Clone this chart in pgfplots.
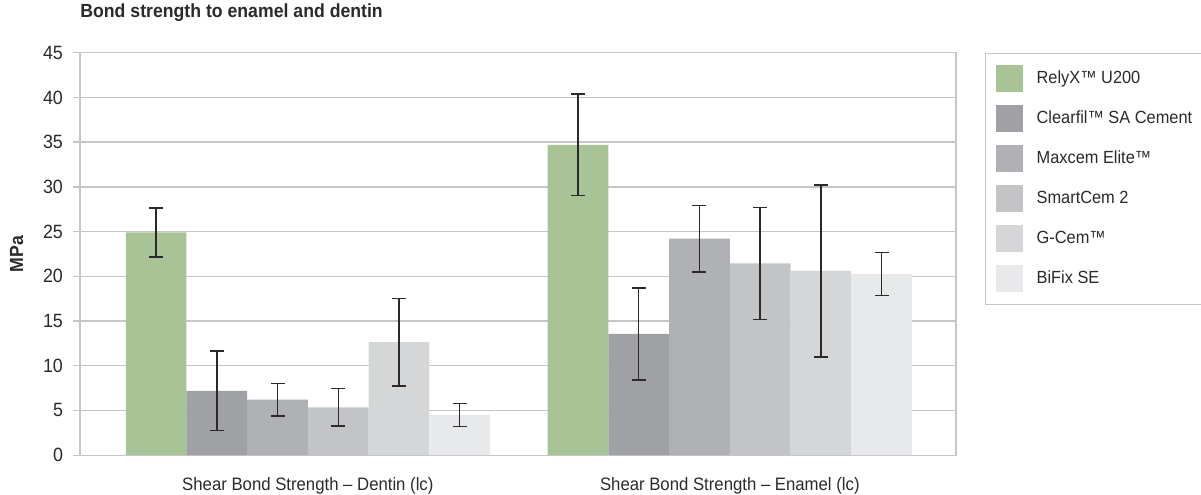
\documentclass[border=0pt]{standalone}
\usepackage{fontspec}
\setmainfont{Liberation Sans}[FakeStretch=0.93]
\usepackage{pgfplots}
\pgfplotsset{compat=1.18}

\definecolor{relyx}{HTML}{A8C496}
\definecolor{clearfil}{HTML}{A0A1A5}
\definecolor{maxcem}{HTML}{B0B1B4}
\definecolor{smartcem}{HTML}{C3C4C6}
\definecolor{gcem}{HTML}{D5D6D8}
\definecolor{bifix}{HTML}{E8E9EB}
\definecolor{gridgray}{HTML}{C6C6C8}
\definecolor{txt}{HTML}{2A2A2A}

\begin{document}
\begin{tikzpicture}
\begin{axis}[
    name=ax,
    scale only axis,
    width=438pt, height=201.25pt,
    ybar=0pt, bar width=30.35pt,
    xmin=-0.540, xmax=1.536,
    ymin=0, ymax=45,
    ytick={0,5,...,45},
    xtick={0,1},
    xticklabels={Shear Bond Strength -- Dentin (lc), Shear Bond Strength -- Enamel (lc)},
    xtick style={draw=none},
    ytick pos=left,
    tick align=outside,
    major tick length=3.5pt,
    ytick style={draw=gridgray, line width=0.65pt},
    ymajorgrids=true,
    grid style={draw=gridgray, line width=0.65pt},
    axis line style={draw=gridgray, line width=0.65pt},
    /pgf/number format/assume math mode=true,
    tick label style={font=\fontsize{9}{10}\selectfont, text=txt},
    yticklabel style={font=\fontsize{9.6}{10}\selectfont, xshift=-1.5pt},
    xticklabel style={yshift=-4pt},
    ylabel={\textbf{MPa}},
    ylabel style={font=\fontsize{9.5}{10}\selectfont, text=txt, yshift=3pt},
    title={Bond strength to enamel and dentin},
    title style={at={(0,1)}, anchor=base west, yshift=11.8pt, inner sep=0pt,
                 font=\fontsize{9.5}{11}\selectfont\bfseries, text=txt},
    error bars/error bar style={draw=txt, line width=0.7pt},
    error bars/error mark options={rotate=90, mark size=3.5pt, line width=0.7pt, draw=txt},
    legend image code/.code={\fill[#1] (2pt,-6.75pt) rectangle (15.5pt,6.75pt);
                             \path (20.5pt,0pt);},
    legend style={at={(1,1)}, anchor=north west, xshift=14.5pt,
                  draw=gridgray, line width=0.65pt,
                  inner xsep=5pt, inner ysep=6pt, row sep=6.5pt,
                  font=\fontsize{8.8}{10}\selectfont, text=txt,
                  cells={anchor=west}},
]
\addplot+[draw=none, fill=relyx, error bars/.cd, y dir=both, y explicit]
  coordinates {(0,24.9) +- (0,2.75) (1,34.7) +- (0,5.7)};
\addplot+[draw=none, fill=clearfil, error bars/.cd, y dir=both, y explicit]
  coordinates {(0,7.2) +- (0,4.45) (1,13.55) +- (0,5.15)};
\addplot+[draw=none, fill=maxcem, error bars/.cd, y dir=both, y explicit]
  coordinates {(0,6.2) +- (0,1.8) (1,24.2) +- (0,3.7)};
\addplot+[draw=none, fill=smartcem, error bars/.cd, y dir=both, y explicit]
  coordinates {(0,5.35) +- (0,2.1) (1,21.45) +- (0,6.25)};
\addplot+[draw=none, fill=gcem, error bars/.cd, y dir=both, y explicit]
  coordinates {(0,12.65) +- (0,4.9) (1,20.6) +- (0,9.6)};
\addplot+[draw=none, fill=bifix, error bars/.cd, y dir=both, y explicit]
  coordinates {(0,4.5) +- (0,1.3) (1,20.25) +- (0,2.4)};
\legend{RelyX™ U200, Clearfil™ SA Cement, Maxcem Elite™, SmartCem 2, G-Cem™, BiFix SE}
\end{axis}
\pgfresetboundingbox
\path[use as bounding box] ([xshift=-40pt,yshift=-19.75pt]ax.south west)
  rectangle ([xshift=122.5pt,yshift=26.35pt]ax.north east);
\end{tikzpicture}
\end{document}
